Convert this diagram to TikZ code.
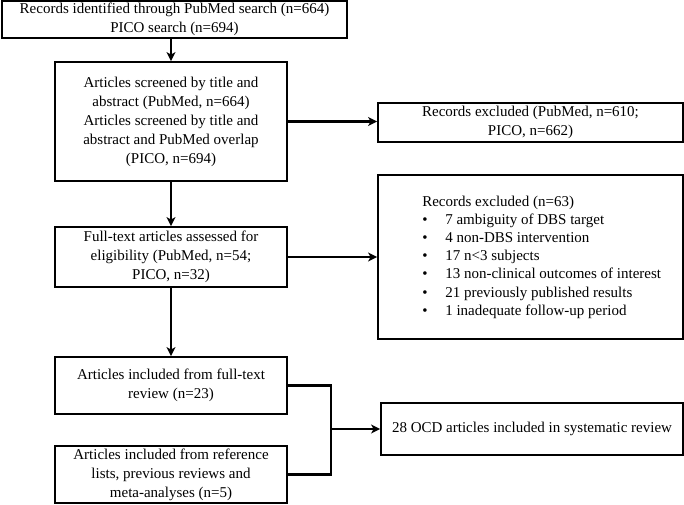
\documentclass[tikz,border=0pt]{standalone}
\usepackage{fontspec}
\setmainfont{Liberation Serif}
\usetikzlibrary{arrows.meta}
\begin{document}
\begin{tikzpicture}[x=1pt,y=-1pt,
  box/.style={draw=black,line width=1.8pt,rectangle,align=center,inner sep=0pt,
    font=\fontsize{15}{19}\selectfont},
  conn/.style={line width=2.2pt,-{Stealth[length=9pt,width=9pt,inset=2.5pt]}},
  linkline/.style={line width=2.2pt}]
\useasboundingbox (0,0) rectangle (684,504);
\node[box,minimum width=345pt,minimum height=37pt] (b1) at (174.5,19.5)
  {Records identified through PubMed search (n=664)\\PICO search (n=694)};
\node[box,minimum width=232pt,minimum height=119pt] (b2) at (171,121.5)
  {Articles screened by title and\\abstract (PubMed, n=664)\\Articles screened by title and\\abstract and PubMed overlap\\(PICO, n=694)};
\node[box,minimum width=305pt,minimum height=39pt] (b3) at (530.5,122.5)
  {Records excluded (PubMed, n=610;\\PICO, n=662)};
\node[box,minimum width=305pt,minimum height=164pt] (b4) at (530.5,257) {};
\node[anchor=west,align=left,inner sep=0pt,font=\fontsize{15}{18.2}\selectfont] (b4t) at ([xshift=45pt]b4.west)
  {Records excluded (n=63)\\
   \makebox[23pt][l]{•}7 ambiguity of DBS target\\
   \makebox[23pt][l]{•}4 non-DBS intervention\\
   \makebox[23pt][l]{•}17 n<3 subjects\\
   \makebox[23pt][l]{•}13 non-clinical outcomes of interest\\
   \makebox[23pt][l]{•}21 previously published results\\
   \makebox[23pt][l]{•}1 inadequate follow-up period};
\node[box,minimum width=232pt,minimum height=60pt] (b5) at (171,257)
  {Full-text articles assessed for\\eligibility (PubMed, n=54;\\PICO, n=32)};
\node[box,minimum width=232pt,minimum height=57pt] (b6) at (171,385.5)
  {Articles included from full-text\\review (n=23)};
\node[box,minimum width=232pt,minimum height=57pt] (b7) at (171,474.5)
  {Articles included from reference\\lists, previous reviews and\\meta-analyses (n=5)};
\node[box,minimum width=302pt,minimum height=52pt] (b8) at (532,429)
  {28 OCD articles included in systematic review};
\coordinate (j) at (331,429);
\draw[conn] (b1.south -| b2.north) -- (b2.north);
\draw[conn] (b2.east) -- (b2.east -| b3.west);
\draw[conn] (b2.south) -- (b5.north);
\draw[conn] (b5.east) -- (b4.west);
\draw[conn] (b5.south) -- (b6.north);
\draw[linkline] (b6.east) -| (j) |- (b7.east);
\draw[conn] (j) -- (b8.west);
\end{tikzpicture}
\end{document}
